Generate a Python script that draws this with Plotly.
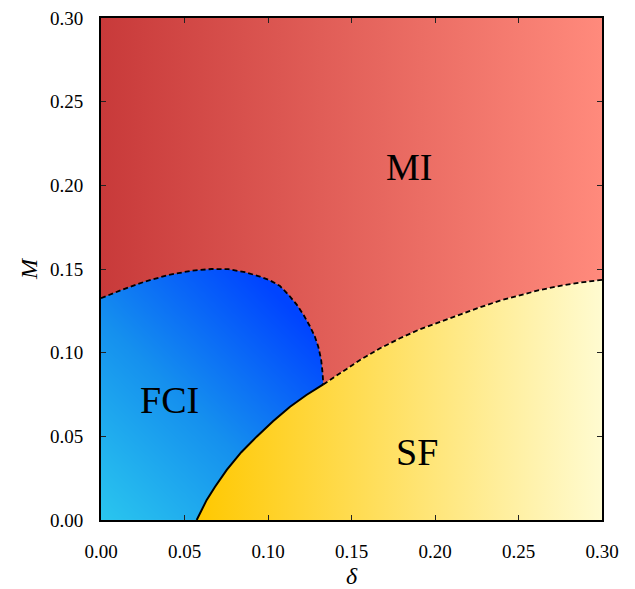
import numpy as np
import plotly.graph_objects as go

# Phase boundaries (delta, M)
fci_mi_x = [0.0, 0.0123, 0.0263, 0.0403, 0.0543, 0.0663, 0.0763, 0.0862, 0.0952, 0.1012,
            0.1072, 0.1122, 0.1172, 0.1215, 0.1251, 0.1280, 0.1301, 0.1318, 0.1327, 0.1331]
fci_mi_y = [0.1325, 0.1375, 0.1425, 0.1464, 0.1490, 0.1500, 0.1499, 0.1481, 0.1455, 0.1432,
            0.1398, 0.1347, 0.1287, 0.1222, 0.1158, 0.1098, 0.1036, 0.0960, 0.0877, 0.0810]

fci_sf_x = [0.0573, 0.0603, 0.0633, 0.0683, 0.0753, 0.0840, 0.0932, 0.1030, 0.1132, 0.1230, 0.1331]
fci_sf_y = [0.0, 0.0065, 0.0120, 0.0199, 0.0299, 0.0405, 0.0498, 0.0590, 0.0677, 0.0747, 0.0810]

sf_mi_x = [0.1331, 0.1431, 0.1551, 0.1671, 0.1790, 0.1910, 0.2030, 0.2150, 0.2269, 0.2389,
           0.2509, 0.2629, 0.2749, 0.2868, 0.3000]
sf_mi_y = [0.0810, 0.0877, 0.0956, 0.1026, 0.1086, 0.1140, 0.1185, 0.1231, 0.1271, 0.1311,
           0.1345, 0.1375, 0.1399, 0.1419, 0.1435]

phase_labels = ["MI", "FCI", "SF"]
label_x = [0.1844, 0.0413, 0.1890]
label_y = [0.2110, 0.0717, 0.0406]

tick_vals = [0.0, 0.05, 0.10, 0.15, 0.20, 0.25, 0.30]
tick_text = ["0.00", "0.05", "0.10", "0.15", "0.20", "0.25", "0.30"]

FONT = "Liberation Serif"

fig = go.Figure()

# FCI region: diagonal gradient drawn as a smooth heatmap, covered elsewhere by the other phases
hx = np.linspace(0.0, 0.134, 68)
hy = np.linspace(0.0, 0.152, 77)
HX, HY = np.meshgrid(hx, hy)
fig.add_trace(go.Heatmap(
    x=hx, y=hy, z=HX + HY, zmin=0.0, zmax=0.24, zsmooth="best", showscale=False,
    colorscale=[[0.0, "#2ac6ee"], [0.5, "#1590ee"], [1.0, "#0044ff"]],
    hoverinfo="skip"))

# MI region
mi_x = [0.0, 0.3] + sf_mi_x[::-1] + fci_mi_x[::-1]
mi_y = [0.3, 0.3] + sf_mi_y[::-1] + fci_mi_y[::-1]
fig.add_trace(go.Scatter(
    x=mi_x, y=mi_y, mode="lines", fill="toself", line=dict(width=0),
    fillgradient=dict(type="horizontal", start=0.0, stop=0.3,
                      colorscale=[[0.0, "#c83a3a"], [1.0, "#ff8a7c"]]),
    hoverinfo="skip", showlegend=False))

# SF region
sf_x = fci_sf_x + sf_mi_x[1:] + [0.3]
sf_y = fci_sf_y + sf_mi_y[1:] + [0.0]
fig.add_trace(go.Scatter(
    x=sf_x, y=sf_y, mode="lines", fill="toself", line=dict(width=0),
    fillgradient=dict(type="horizontal", start=0.057, stop=0.3,
                      colorscale=[[0.0, "#ffc800"], [1.0, "#fffbd0"]]),
    hoverinfo="skip", showlegend=False))

# Boundaries
fig.add_trace(go.Scatter(x=fci_mi_x, y=fci_mi_y, mode="lines",
                         line=dict(color="black", width=1.8, dash="5px,3px"), showlegend=False))
fig.add_trace(go.Scatter(x=sf_mi_x, y=sf_mi_y, mode="lines",
                         line=dict(color="black", width=1.8, dash="5px,3px"), showlegend=False))
fig.add_trace(go.Scatter(x=fci_sf_x, y=fci_sf_y, mode="lines",
                         line=dict(color="black", width=2), showlegend=False))

for t, x, y in zip(phase_labels, label_x, label_y):
    fig.add_annotation(x=x, y=y, text=t, showarrow=False,
                       font=dict(family=FONT, size=38, color="black"))

axis_common = dict(
    range=[0.0, 0.3], tickvals=tick_vals, ticktext=tick_text,
    ticks="inside", ticklen=5, tickwidth=1.3, tickcolor="#222",
    showline=True, linewidth=2, linecolor="black", mirror="allticks",
    showgrid=False, zeroline=False, automargin=False,
    tickfont=dict(family=FONT, size=19, color="black"),
)

fig.update_layout(
    width=635, height=589,
    margin=dict(l=101, r=33, t=18, b=69),
    paper_bgcolor="white", plot_bgcolor="white",
    showlegend=False,
    xaxis=dict(**axis_common, ticklabelstandoff=13,
               title=dict(text="<i>δ</i>", font=dict(family=FONT, size=24, color="black"), standoff=18)),
    yaxis=dict(**axis_common, ticklabelstandoff=12,
               title=dict(text="<i>M</i>", font=dict(family=FONT, size=24, color="black"), standoff=6)),
)

fig.write_html("out.html")
